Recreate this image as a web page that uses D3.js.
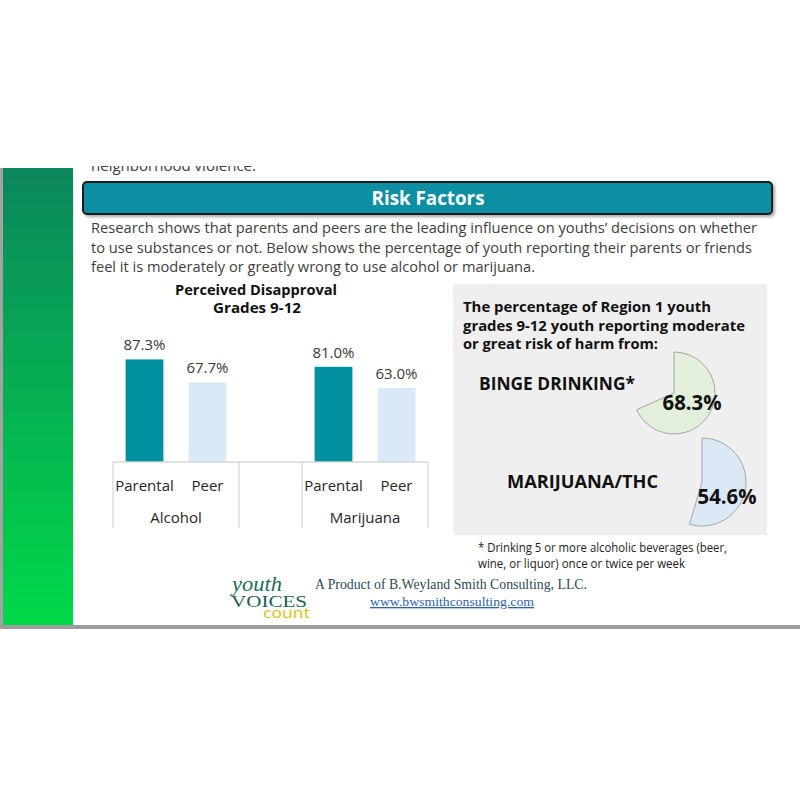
<!DOCTYPE html>
<html>
<head>
<meta charset="utf-8">
<script src="https://cdn.jsdelivr.net/npm/d3@7"></script>
<style>
  body { margin: 0; background: #fff; }
  svg { display: block; }
</style>
</head>
<body>
<svg id="page"></svg>
<script>
// chart values
const groups = ['Alcohol', 'Marijuana'];
const sources = ['Parental', 'Peer'];
const disapproval = [[87.3, 67.7], [81.0, 63.0]];
const riskLabels = ['BINGE DRINKING*', 'MARIJUANA/THC'];
const riskValues = [68.3, 54.6];

const paragraph = [
	'Research shows that parents and peers are the leading influence on youths\u2019 decisions on whether',
	'to use substances or not. Below shows the percentage of youth reporting their parents or friends',
	'feel it is moderately or greatly wrong to use alcohol or marijuana.'
];
const panelTitle = [
	'The percentage of Region 1 youth',
	'grades 9-12 youth reporting moderate',
	'or great risk of harm from:'
];
const footnote = [
	'* Drinking 5 or more alcoholic beverages (beer,',
	'wine, or liquor) once or twice per week'
];

const width = 800,
	height = 800;
const sans = "'Open Sans', 'Noto Sans', sans-serif";
const svg = d3.select('#page').attr('width', width).attr('height', height);
const defs = svg.append('defs');

// ---- page frame ----
const grad = defs.append('linearGradient').attr('id', 'side').attr('x1', 0).attr('y1', 0).attr('x2', 0).attr('y2', 1);
grad.append('stop').attr('offset', '0%').attr('stop-color', '#0b875c');
grad.append('stop').attr('offset', '100%').attr('stop-color', '#00d948');

svg.append('rect').attr('x', 0).attr('y', 168).attr('width', 3).attr('height', 461).attr('fill', '#a3a3a3');
svg.append('rect').attr('x', 3).attr('y', 168).attr('width', 70).attr('height', 457).attr('fill', 'url(#side)');
svg.append('rect').attr('x', 0).attr('y', 625).attr('width', width).attr('height', 4).attr('fill', '#9c9c9c');

// cut-off line of the previous section
defs.append('clipPath').attr('id', 'cut').append('rect').attr('x', 0).attr('y', 166).attr('width', width).attr('height', 10);
svg.append('text')
	.attr('clip-path', 'url(#cut)')
	.attr('x', 91).attr('y', 171)
	.attr('font-family', sans).attr('font-size', 15).attr('fill', '#404040')
	.attr('textLength', 165).attr('lengthAdjust', 'spacingAndGlyphs')
	.text('neighborhood violence.');

// ---- header ----
const shadow = defs.append('filter').attr('id', 'shadow').attr('x', '-5%').attr('y', '-30%').attr('width', '110%').attr('height', '170%');
shadow.append('feDropShadow').attr('dx', 2).attr('dy', 2).attr('stdDeviation', 1.5).attr('flood-color', '#000').attr('flood-opacity', 0.35);
svg.append('rect')
	.attr('x', 83).attr('y', 182).attr('width', 689).attr('height', 32).attr('rx', 4)
	.attr('fill', '#0c8fa3').attr('stroke', '#1a1a1a').attr('stroke-width', 2)
	.attr('filter', 'url(#shadow)');
svg.append('text')
	.attr('x', 428).attr('y', 205).attr('text-anchor', 'middle')
	.attr('font-family', sans).attr('font-weight', 'bold').attr('font-size', 19).attr('fill', '#fff')
	.attr('textLength', 113).attr('lengthAdjust', 'spacingAndGlyphs')
	.text('Risk Factors');

const paraWidths = [666, 661, 444];
svg.append('g').selectAll('text').data(paragraph).join('text')
	.attr('x', 91).attr('y', (d, i) => 233 + i * 19.5)
	.attr('font-family', sans).attr('font-size', 15).attr('fill', '#404040')
	.attr('textLength', (d, i) => paraWidths[i]).attr('lengthAdjust', 'spacingAndGlyphs')
	.text((d) => d);

// ---- bar chart: Perceived Disapproval ----
const bars = svg.append('g');
bars.append('text')
	.attr('x', 256).attr('y', 295).attr('text-anchor', 'middle')
	.attr('font-family', sans).attr('font-weight', 'bold').attr('font-size', 14).attr('fill', '#111')
	.attr('textLength', 162).attr('lengthAdjust', 'spacingAndGlyphs')
	.text('Perceived Disapproval');
bars.append('text')
	.attr('x', 257).attr('y', 313).attr('text-anchor', 'middle')
	.attr('font-family', sans).attr('font-weight', 'bold').attr('font-size', 14).attr('fill', '#111')
	.attr('textLength', 88).attr('lengthAdjust', 'spacingAndGlyphs')
	.text('Grades 9-12');

// slots: each group's sources, with an empty slot between groups
const slots = [];
groups.forEach((g, gi) => {
	if (gi > 0) slots.push({ key: 'gap' + gi, group: null, source: '', value: null });
	sources.forEach((s, si) => slots.push({ key: g + '|' + s, group: g, source: s, value: disapproval[gi][si], si: si }));
});

const baseY = 462,
	axisBottomY = 528;
const x = d3.scaleBand().domain(slots.map((d) => d.key)).range([ 113, 428 ]);
const y = d3.scaleLinear().domain([ 0, 100 ]).range([ baseY, baseY - 117.5 ]);
const barW = x.bandwidth() * 0.6;
const barColor = [ '#00909f', '#dae9f7' ];

const filled = slots.filter((d) => d.group);
bars.selectAll('rect.bar').data(filled).join('rect')
	.attr('class', 'bar')
	.attr('x', (d) => x(d.key) + (x.bandwidth() - barW) / 2)
	.attr('y', (d) => y(d.value))
	.attr('width', barW)
	.attr('height', (d) => baseY - y(d.value))
	.attr('fill', (d) => barColor[d.si]);

bars.selectAll('text.val').data(filled).join('text')
	.attr('class', 'val')
	.attr('x', (d) => x(d.key) + x.bandwidth() / 2)
	.attr('y', (d) => y(d.value) - 9)
	.attr('text-anchor', 'middle')
	.attr('font-family', sans).attr('font-size', 15).attr('fill', '#3a3a3a')
	.text((d) => d.value.toFixed(1) + '%');

// category axis (sub labels)
const xAxis = d3.axisBottom(x).tickSize(0).tickPadding(18).tickFormat((k) => {
	const s = slots.find((d) => d.key === k);
	return s.source;
});
const axisG = bars.append('g').attr('transform', 'translate(0,' + baseY + ')').call(xAxis);
axisG.select('.domain').remove();
axisG.selectAll('text').attr('font-family', sans).attr('font-size', 15).attr('fill', '#262626');

// axis box lines
const lineColor = '#d9d9d9';
bars.append('line')
	.attr('x1', x.range()[0]).attr('x2', x.range()[1])
	.attr('y1', baseY).attr('y2', baseY)
	.attr('stroke', lineColor).attr('stroke-width', 1.3);
const bounds = [];
groups.forEach((g) => {
	const keys = slots.filter((d) => d.group === g).map((d) => d.key);
	const x0 = x(keys[0]),
		x1 = x(keys[keys.length - 1]) + x.bandwidth();
	bounds.push(x0, x1);
	bars.append('text')
		.attr('x', (x0 + x1) / 2).attr('y', 523).attr('text-anchor', 'middle')
		.attr('font-family', sans).attr('font-size', 15).attr('fill', '#262626')
		.text(g);
});
bars.selectAll('line.sep').data(bounds).join('line')
	.attr('class', 'sep')
	.attr('x1', (d) => d).attr('x2', (d) => d)
	.attr('y1', baseY).attr('y2', axisBottomY)
	.attr('stroke', lineColor).attr('stroke-width', 1.3);

// ---- risk of harm panel ----
const panel = svg.append('g');
panel.append('rect').attr('x', 453).attr('y', 284).attr('width', 314).attr('height', 251).attr('fill', '#efefef');
const titleWidths = [248, 282, 195];
panel.selectAll('text.pt').data(panelTitle).join('text')
	.attr('class', 'pt')
	.attr('x', 463).attr('y', (d, i) => 312 + i * 18.5)
	.attr('font-family', sans).attr('font-weight', 'bold').attr('font-size', 15).attr('fill', '#111')
	.attr('textLength', (d, i) => titleWidths[i]).attr('lengthAdjust', 'spacingAndGlyphs')
	.text((d) => d);

const angle = d3.scaleLinear().domain([ 0, 100 ]).range([ 0, 2 * Math.PI ]);
const pieLayout = [
	{ cx: 674, cy: 393, r: 41, fill: '#e2efda', labelX: 479, labelY: 390, labelW: 156, valX: 692, valY: 410 },
	{ cx: 702, cy: 482, r: 44, fill: '#dbe9f6', labelX: 507, labelY: 488, labelW: 151, valX: 727, valY: 504 }
];
riskValues.forEach((v, i) => {
	const L = pieLayout[i];
	const arc = d3.arc().innerRadius(0).outerRadius(L.r);
	panel.append('path')
		.attr('transform', 'translate(' + L.cx + ',' + L.cy + ')')
		.attr('d', arc({ startAngle: angle(0), endAngle: angle(v) }))
		.attr('fill', L.fill).attr('stroke', '#a6a6a6').attr('stroke-width', 1);
	panel.append('text')
		.attr('x', L.labelX).attr('y', L.labelY)
		.attr('font-family', sans).attr('font-weight', 'bold').attr('font-size', 17).attr('fill', '#111')
		.attr('textLength', L.labelW).attr('lengthAdjust', 'spacingAndGlyphs')
		.text(riskLabels[i]);
	panel.append('text')
		.attr('x', L.valX).attr('y', L.valY).attr('text-anchor', 'middle')
		.attr('font-family', sans).attr('font-weight', 'bold').attr('font-size', 21).attr('fill', '#111')
		.attr('textLength', 59).attr('lengthAdjust', 'spacingAndGlyphs')
		.text(v.toFixed(1) + '%');
});

const footW = [249, 207];
svg.append('g').selectAll('text').data(footnote).join('text')
	.attr('x', 478).attr('y', (d, i) => 552 + i * 15.5)
	.attr('font-family', sans).attr('font-size', 12).attr('fill', '#222')
	.attr('textLength', (d, i) => footW[i]).attr('lengthAdjust', 'spacingAndGlyphs')
	.text((d) => d);

// ---- footer ----
const foot = svg.append('g');
foot.append('text')
	.attr('x', 232).attr('y', 591)
	.attr('font-family', "'Liberation Serif', serif").attr('font-style', 'italic').attr('font-size', 21).attr('fill', '#1d6b60')
	.attr('textLength', 50).attr('lengthAdjust', 'spacingAndGlyphs')
	.text('youth');
foot.append('text')
	.attr('x', 231).attr('y', 607)
	.attr('font-family', "'Liberation Serif', serif").attr('font-size', 17).attr('fill', '#1b5f5a')
	.attr('textLength', 76).attr('lengthAdjust', 'spacingAndGlyphs')
	.text('VOICES');
foot.append('text')
	.attr('x', 263).attr('y', 618)
	.attr('font-family', "'Noto Sans', sans-serif").attr('font-size', 14).attr('fill', '#e5bf22')
	.attr('textLength', 47).attr('lengthAdjust', 'spacingAndGlyphs')
	.text('count');
foot.append('text')
	.attr('x', 315).attr('y', 589)
	.attr('font-family', "'Liberation Serif', serif").attr('font-size', 14).attr('fill', '#2b4a58')
	.attr('textLength', 272).attr('lengthAdjust', 'spacingAndGlyphs')
	.text('A Product of B.Weyland Smith Consulting, LLC.');
foot.append('text')
	.attr('x', 370).attr('y', 606)
	.attr('font-family', "'Liberation Serif', serif").attr('font-size', 13).attr('fill', '#2f5fb0')
	.attr('text-decoration', 'underline')
	.attr('textLength', 164).attr('lengthAdjust', 'spacingAndGlyphs')
	.text('www.bwsmithconsulting.com');
</script>
</body>
</html>
